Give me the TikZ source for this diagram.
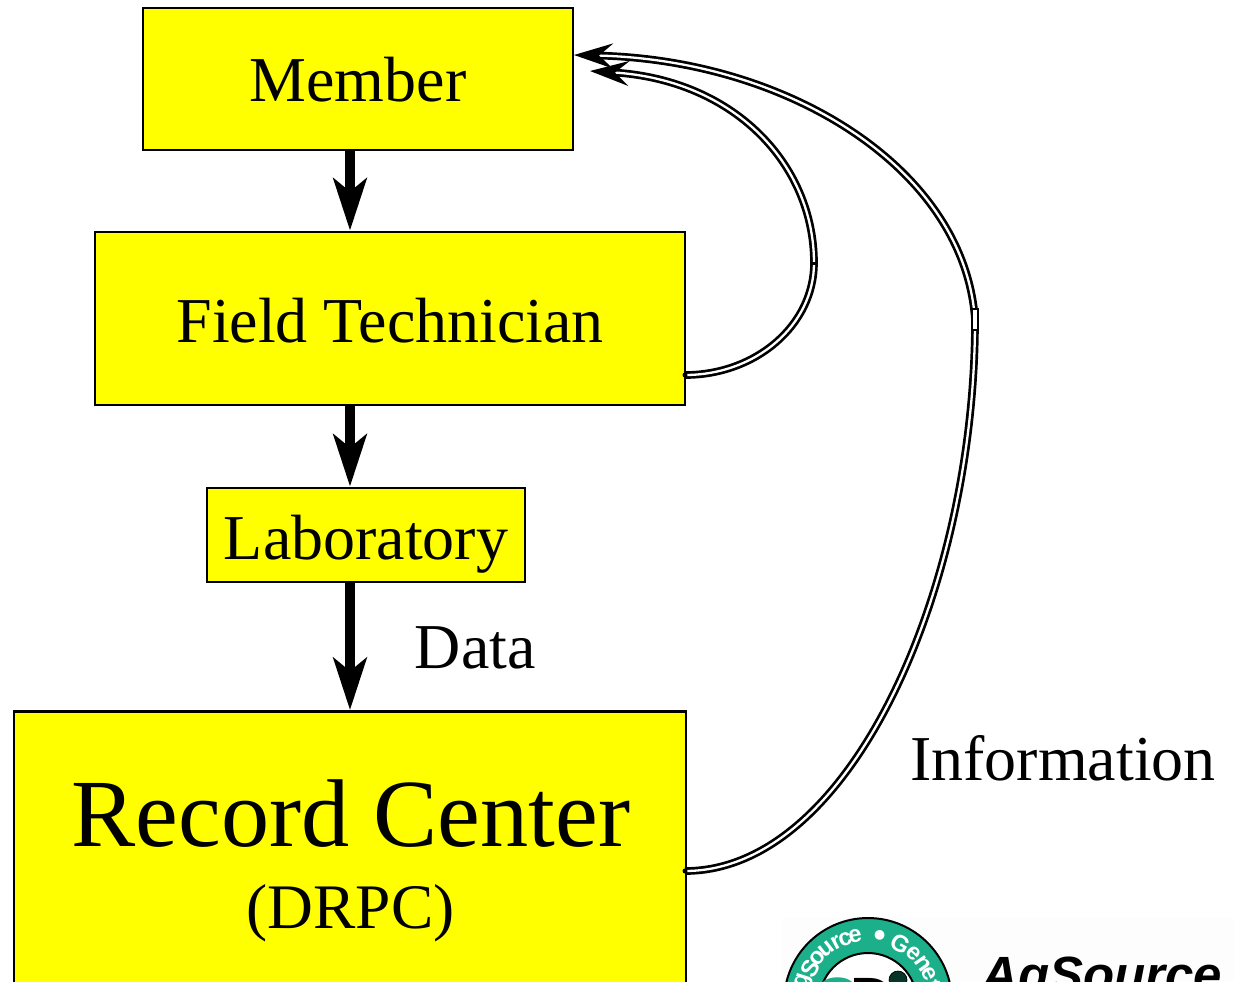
\documentclass[tikz,border=0pt]{standalone}
\usepackage{fontspec}
\setmainfont{Liberation Serif}
\newfontfamily\logofont{Liberation Sans}
\usetikzlibrary{arrows.meta}
\definecolor{boxyellow}{RGB}{255,255,0}
\definecolor{logoteal}{HTML}{1BB08A}
\definecolor{logopaper}{HTML}{FDFDFD}

\begin{document}
\begin{tikzpicture}[
            x=0.02cm, y=-0.02cm,
            box/.style={draw, fill=boxyellow, line width=0.054cm, inner sep=0pt, align=center, text depth=0pt},
            flow/.style={line width=0.21cm, -{Stealth[length=1.04cm, width=0.66cm, inset=0.26cm]}},
            feedback/.style={draw, line width=0.054cm, double=white, double distance=0.046cm, -{Stealth[length=0.78cm, width=0.5cm, inset=0.28cm]}},
            label/.style={font=\fontsize{36.4}{44}\selectfont, inner sep=0pt},
            ringletter/.style={font=\logofont\bfseries\fontsize{13.5}{14}\selectfont, text=white, inner sep=0pt}
        ]
            \useasboundingbox (0,0) rectangle (1234,981);

            % Boxes
            \node[box, label, minimum width=8.6cm, minimum height=2.84cm, text height=0.908cm] (member) at (358,79) {Member};
            \node[box, label, minimum width=11.8cm, minimum height=3.46cm, text height=0.94cm] (field) at (390,318.5) {Field Technician};
            \node[box, label, minimum width=6.36cm, minimum height=1.88cm, text height=0.976cm] (laboratory) at (366,535) {Laboratory};
            \node[box, minimum width=13.44cm, minimum height=6.54cm] (record) at (350,875) {};
            \node[inner sep=0pt, font=\fontsize{54.8}{60}\selectfont, anchor=base] (recordname) at (351,846) {Record Center};
            \node[label, font=\fontsize{36.1}{44}\selectfont, anchor=base] (recordcode) at (350.5,928) {(DRPC)};

            % Side labels
            \node[label, anchor=base west] (data) at (414.5,668) {Data};
            \node[label, anchor=base west] (information) at (910,780) {Information};

            % Data flow down the column
            \draw[flow] (member.south -| record.north) -- (field.north -| record.north);
            \draw[flow] (field.south -| record.north) -- (laboratory.north -| record.north);
            \draw[flow] (laboratory.south -| record.north) -- (record.north);

            % Information going back to the member
            \coordinate (fieldout) at (685,375);
            \coordinate (fieldbend) at (814,263);
            \coordinate (fieldin) at (590,71);
            \coordinate (recordout) at (685,871);
            \coordinate (recordbend) at (975,320);
            \coordinate (recordin) at (574,55);
            \draw[feedback] (fieldout) .. controls (756,375) and (814,325) .. (fieldbend)
                .. controls (814,165) and (735,80) .. (fieldin);
            \draw[feedback] (recordout) .. controls (850,871) and (975,590) .. (recordbend)
                .. controls (965,170) and (790,60) .. (recordin);

            % Small marks where the curves join
            \fill (fieldout) circle[radius=0.05cm];
            \fill (recordout) circle[radius=0.05cm];
            \draw[line width=0.06cm] (fieldbend) +(-3,0) -- +(3,0);
            \filldraw[fill=white, line width=0.03cm] (972,309) rectangle (978,330);

            % Logo, cut off by the page
            \fill[logopaper] (782,918) rectangle (1234,981);
            \filldraw[fill=logoteal, draw=black, line width=0.04cm] (868,1002) circle[radius=1.68cm];
            \filldraw[fill=white, draw=black, line width=0.04cm] (868,1002) circle[radius=0.98cm];
            \foreach \letter/\angle in {A/-84, g/-72, S/-60, o/-49, u/-38, r/-28, c/-20, e/-11, {$\bullet$}/10, G/29, e/43, n/55, e/65, t/75}
                \node[ringletter, rotate=-\angle] at ({868+67*sin(\angle)}, {1002-67*cos(\angle)}) {\letter};
            \node[inner sep=0pt, anchor=base, font=\logofont\bfseries\fontsize{34}{34}\selectfont, text=logoteal] (logog) at (838,1019) {G};
            \node[inner sep=0pt, anchor=base, font=\logofont\bfseries\fontsize{34}{34}\selectfont] (logod) at (872,1019) {D};
            \filldraw[fill=logoteal!30!black, draw=black] (898,980) circle[radius=0.18cm];
            \node[inner sep=0pt, anchor=base west, font=\logofont\bfseries\itshape\fontsize{29}{30}\selectfont] (agsource) at (981,992) {AgSource};
        \end{tikzpicture}
\end{document}
